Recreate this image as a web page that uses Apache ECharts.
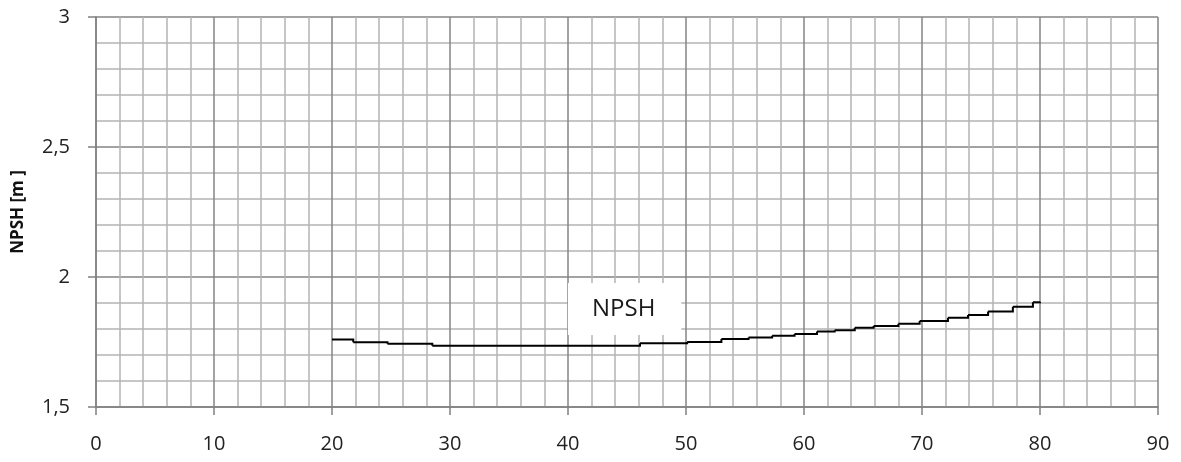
<!DOCTYPE html>
<html>
<head>
<meta charset="utf-8">
<script src="https://cdn.jsdelivr.net/npm/echarts@6/dist/echarts.min.js"></script>
<style>
html,body{margin:0;padding:0;background:#fff;}
#chart{width:1181px;height:462px;}
</style>
</head>
<body>
<div id="chart"></div>
<script>
// Data: x = flow, y = NPSH level starting at that x (stair-stepped curve)
const xValues = [20, 21.8, 24.7, 28.5, 46.1, 50.1, 53.0, 55.3, 57.3, 59.2, 61.1, 62.6, 64.3, 65.9, 68.0, 69.8, 72.2, 73.9, 75.6, 77.7, 79.4, 80];
const npshValues = [1.760, 1.749, 1.743, 1.736, 1.745, 1.750, 1.762, 1.767, 1.774, 1.781, 1.790, 1.795, 1.805, 1.812, 1.820, 1.831, 1.843, 1.854, 1.867, 1.886, 1.903, 1.905];
const seriesName = 'NPSH';
const yAxisTitle = 'NPSH [m ]';
const labelPos = [44.8, 1.877];

// one item per stair step: [x_i, y_i, x_{i+1}, y_{i+1}]
const stepItems = [];
for (let i = 0; i + 1 < xValues.length; i++) {
  stepItems.push([xValues[i], npshValues[i], xValues[i + 1], npshValues[i + 1]]);
}

const chart = echarts.init(document.getElementById('chart'), null, {renderer: 'canvas'});
const fontFam = '"Open Sans", "Liberation Sans", sans-serif';
chart.setOption({
  animation: false,
  backgroundColor: '#ffffff',
  grid: {left: 96, right: 23, top: 17, bottom: 55, containLabel: false},
  xAxis: {
    type: 'value', min: 0, max: 90, interval: 10,
    axisLine: {show: true, lineStyle: {color: '#808080', width: 1.5}},
    axisTick: {show: true, length: 8, inside: false, lineStyle: {color: '#808080', width: 1.5}},
    axisLabel: {color: '#222', fontSize: 20, fontFamily: fontFam, margin: 27},
    splitLine: {show: true, lineStyle: {color: '#858585', width: 1.5}},
    minorTick: {show: false, splitNumber: 5},
    minorSplitLine: {show: true, lineStyle: {color: '#b4b4b4', width: 1.5}}
  },
  yAxis: {
    type: 'value', min: 1.5, max: 3, interval: 0.5,
    name: yAxisTitle, nameLocation: 'middle', nameGap: 69, nameRotate: 90,
    nameTextStyle: {color: '#111', fontSize: 17, fontWeight: 'bold', fontFamily: fontFam},
    axisLine: {show: true, lineStyle: {color: '#808080', width: 1.5}},
    axisTick: {show: true, length: 8, lineStyle: {color: '#808080', width: 1.5}},
    axisLabel: {color: '#222', fontSize: 20, fontFamily: fontFam, margin: 26,
      padding: [6, 0, 0, 0],
      formatter: v => String(v).replace('.', ',')},
    splitLine: {show: true, lineStyle: {color: '#858585', width: 1.5}},
    minorTick: {show: false, splitNumber: 5},
    minorSplitLine: {show: true, lineStyle: {color: '#b4b4b4', width: 1.5}}
  },
  series: [{
    name: seriesName,
    type: 'custom',
    data: stepItems,
    encode: {x: [0, 2], y: [1, 3]},
    renderItem: function (params, api) {
      const p0 = api.coord([api.value(0), api.value(1)]);
      const p1 = api.coord([api.value(2), api.value(1)]);
      const p2 = api.coord([api.value(2), api.value(3)]);
      return {
        type: 'polyline',
        shape: {points: [p0, p1, p2]},
        style: {stroke: '#000', lineWidth: 2, fill: null, lineJoin: 'miter'}
      };
    },
    z: 3
  }, {
    name: seriesName + ' label',
    type: 'scatter',
    data: [labelPos],
    symbolSize: 0,
    silent: true,
    z: 4,
    itemStyle: {opacity: 1},
    label: {
      show: true, position: 'inside', formatter: seriesName,
      color: '#1a1a1a', fontSize: 24, fontFamily: fontFam,
      backgroundColor: '#ffffff', padding: [21, 26, 5, 24], lineHeight: 26
    }
  }]
});
</script>
</body>
</html>
